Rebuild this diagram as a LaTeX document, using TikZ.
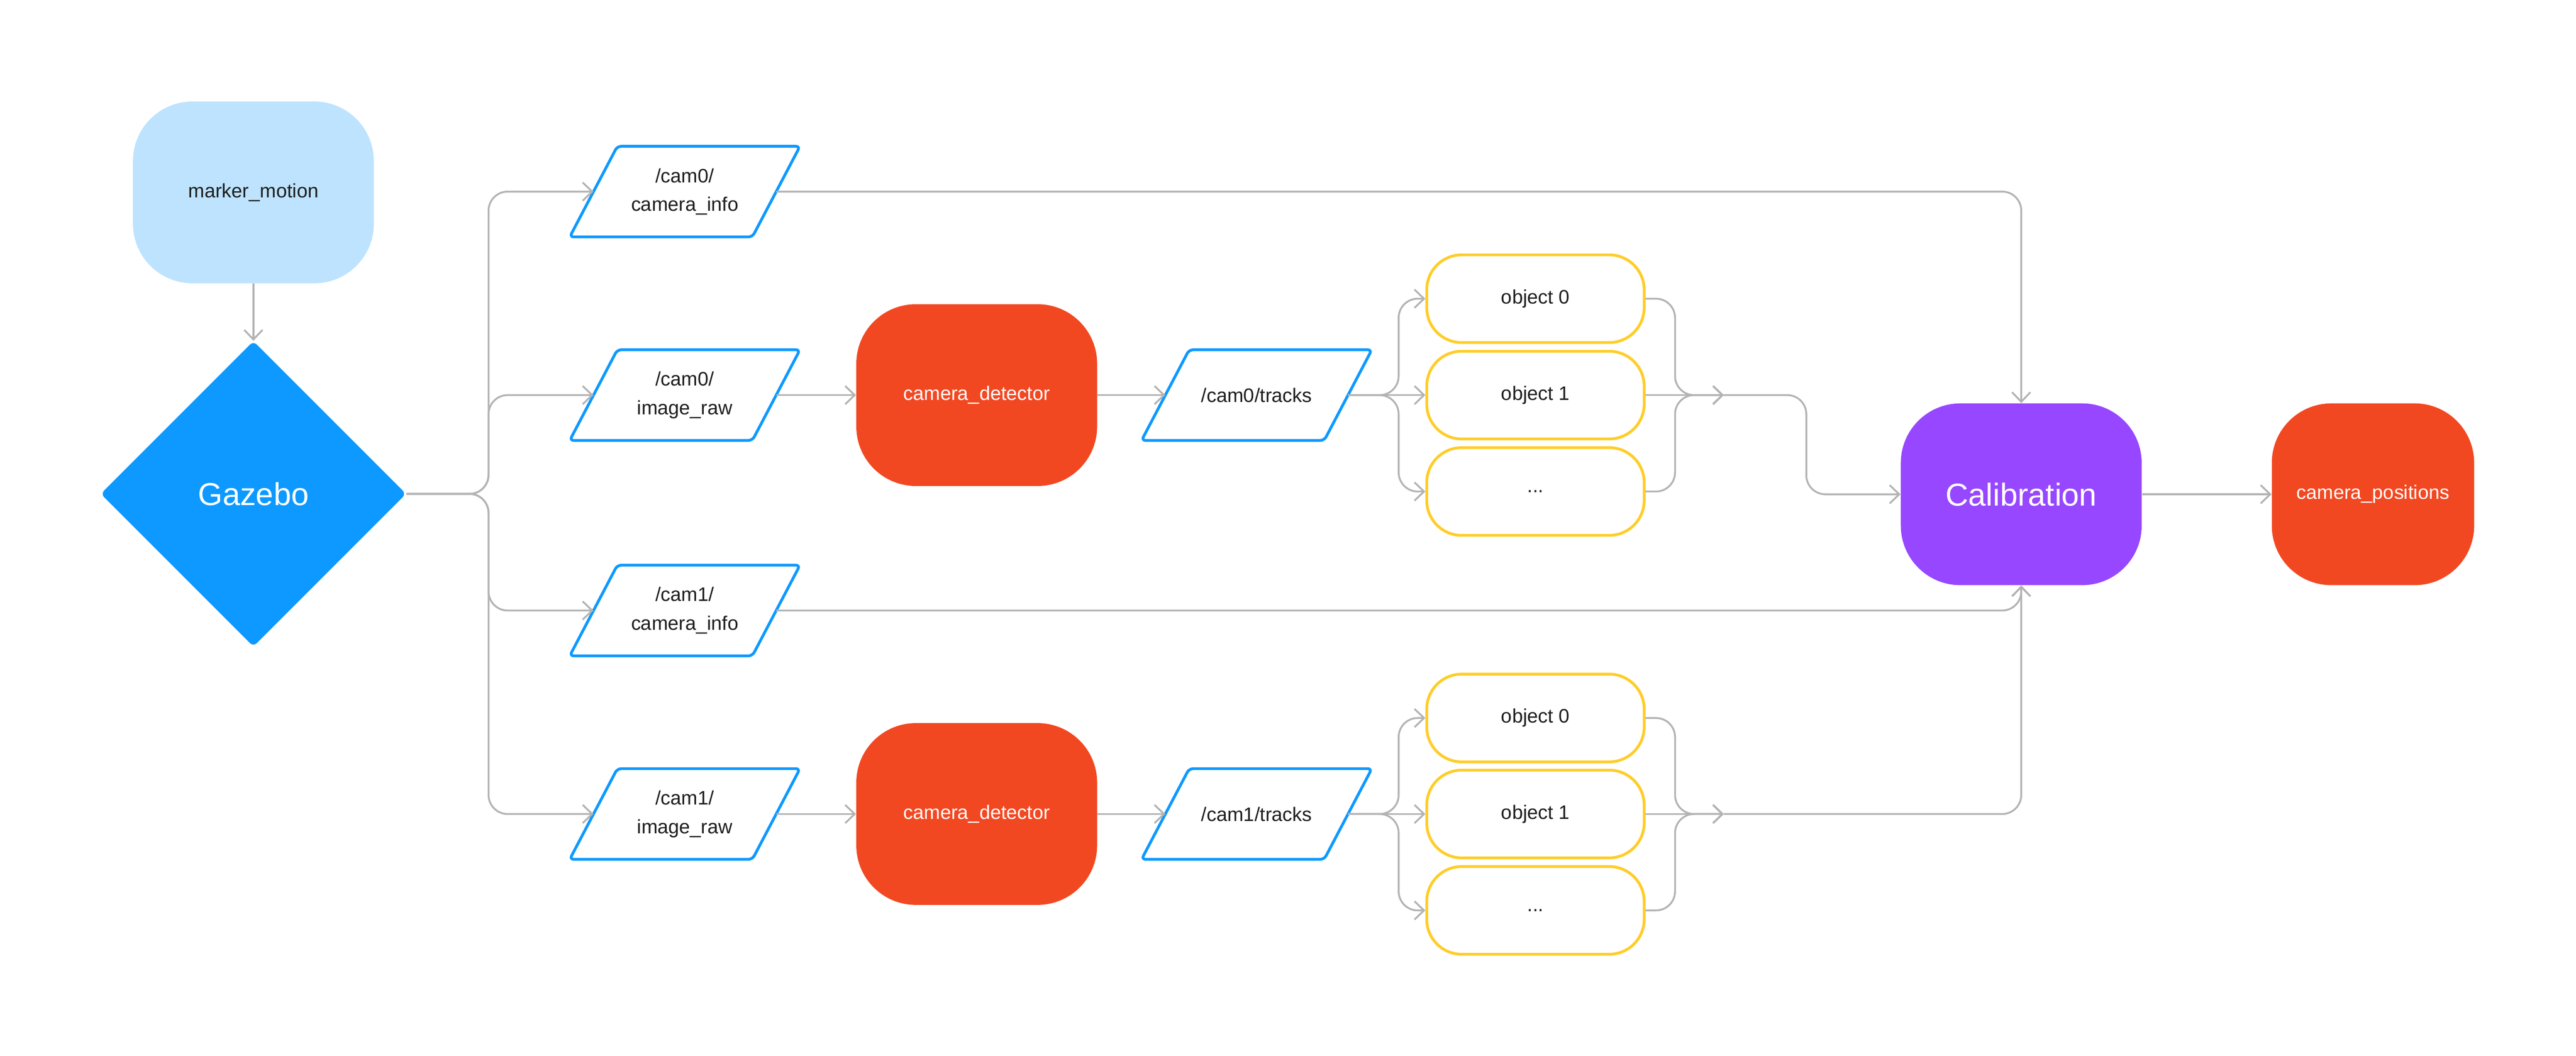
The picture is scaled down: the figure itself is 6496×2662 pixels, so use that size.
\documentclass[tikz,border=0pt]{standalone}
\usepackage{fontspec}
\setmainfont{Liberation Sans}
\usetikzlibrary{shapes.geometric,arrows.meta,calc}
\definecolor{lnc}{HTML}{B3B3B3}
\definecolor{lblue}{HTML}{BDE3FE}
\definecolor{gblue}{HTML}{0D99FF}
\definecolor{redn}{HTML}{F24822}
\definecolor{purp}{HTML}{9747FF}
\definecolor{ylw}{HTML}{FFCD29}
\definecolor{txt}{HTML}{1E1E1E}
\newcommand\pgramoutline[1]{%
  \draw[pline] ($(#1.south west)+(-60,0)$) -- ($(#1.north west)+(60,0)$) -- ($(#1.north east)+(60,0)$) -- ($(#1.south east)+(-60,0)$) -- cycle;}
\begin{document}
\begin{tikzpicture}[x=0.01cm,y=-0.01cm,
  conn/.style={draw=lnc, line width=1.3pt, rounded corners=0.48cm, -{Straight Barb[length=0.24cm,width=0.46cm]}},
  small/.style={font=\fontsize{14}{20.5}\selectfont},
  big/.style={font=\fontsize{22.7}{27}\selectfont},
  rbox/.style={rectangle, rounded corners=1.5cm, minimum width=6.07cm, minimum height=4.58cm, inner sep=0pt, small, text=white},
  para/.style={rectangle, minimum width=4.59cm, minimum height=2.27cm, inner sep=0pt, align=center, small, text=txt},
  pline/.style={draw=gblue, line width=2pt, rounded corners=0.1cm},
  obj/.style={rectangle, rounded corners=0.88cm, draw=ylw, line width=2pt, minimum width=5.48cm, minimum height=2.21cm, inner sep=0pt, fill=white, small, text=txt}
]
\fill[white] (0,0) rectangle (6496,2662);
\useasboundingbox (0,0) rectangle (6496,2662);

% sources
\node[rbox, fill=lblue, text=txt] (mm) at (639,485) {marker\_motion};
\node[diamond, aspect=1, fill=gblue, minimum width=7.7cm, minimum height=7.7cm, inner sep=0pt, rounded corners=0.12cm, big, text=white] (gz) at (639,1245) {Gazebo};

% topics
\node[para] (i0) at (1727,483) {/cam0/\\camera\_info};
\node[para] (r0) at (1727,996) {/cam0/\\image\_raw};
\node[para] (i1) at (1727,1539) {/cam1/\\camera\_info};
\node[para] (r1) at (1727,2052) {/cam1/\\image\_raw};

% detectors
\node[rbox, fill=redn] (d0) at (2463,996) {camera\_detector};
\node[rbox, fill=redn] (d1) at (2463,2052) {camera\_detector};

% tracks
\node[para] (t0) at (3169,996) {/cam0/tracks};
\node[para] (t1) at (3169,2052) {/cam1/tracks};

\pgramoutline{i0}
\pgramoutline{r0}
\pgramoutline{i1}
\pgramoutline{r1}
\pgramoutline{t0}
\pgramoutline{t1}

% objects
\node[obj] (o00) at (3872,753) {object 0};
\node[obj] (o01) at (3872,996) {object 1};
\node[obj] (o02) at (3872,1239) {...};
\node[obj] (o10) at (3872,1810) {object 0};
\node[obj] (o11) at (3872,2052) {object 1};
\node[obj] (o12) at (3872,2295) {...};

% calibration and result
\node[rbox, fill=purp, big] (cal) at (5097,1246) {Calibration};
\node[rbox, fill=redn, minimum width=5.1cm] (cp) at (5984,1246) {camera\_positions};

% junction coordinates
\coordinate (gj) at (1232,1245);
\coordinate (s0) at (3527,996);
\coordinate (s1) at (3527,2052);
\coordinate (mj0) at (4224,996);
\coordinate (mj1) at (4224,2052);
\coordinate (m0) at (4347,996);
\coordinate (m1) at (4347,2052);
\coordinate (c0) at (4555,996);

% connectors
\draw[conn] (mm) -- (gz);
\draw[conn] (gz.east) -- (gj) |- (i0.west);
\draw[conn] (gz.east) -- (gj) |- (r0.west);
\draw[conn] (gz.east) -- (gj) |- (i1.west);
\draw[conn] (gz.east) -- (gj) |- (r1.west);

\draw[conn] (r0.east) -- (d0.west);
\draw[conn] (d0.east) -- (t0.west);
\draw[conn] (r1.east) -- (d1.west);
\draw[conn] (d1.east) -- (t1.west);

\draw[conn] (t0.east) -- (s0) |- (o00.west);
\draw[conn] (t0.east) -- (o01.west);
\draw[conn] (t0.east) -- (s0) |- (o02.west);
\draw[conn] (t1.east) -- (s1) |- (o10.west);
\draw[conn] (t1.east) -- (o11.west);
\draw[conn] (t1.east) -- (s1) |- (o12.west);

\draw[conn] (o00.east) -| (mj0) -- (m0);
\draw[conn] (o01.east) -- (m0);
\draw[conn] (o02.east) -| (mj0) -- (m0);
\draw[conn] (o10.east) -| (mj1) -- (m1);
\draw[conn] (o11.east) -- (m1);
\draw[conn] (o12.east) -| (mj1) -- (m1);

\draw[conn] (m0) -- (c0) |- (cal.west);
\draw[conn] (i0.east) -| (cal.north);
\draw[conn] (i1.east) -| (cal.south);
\draw[conn] (m1) -| (cal.south);
\draw[conn] (cal) -- (cp);
\end{tikzpicture}
\end{document}
